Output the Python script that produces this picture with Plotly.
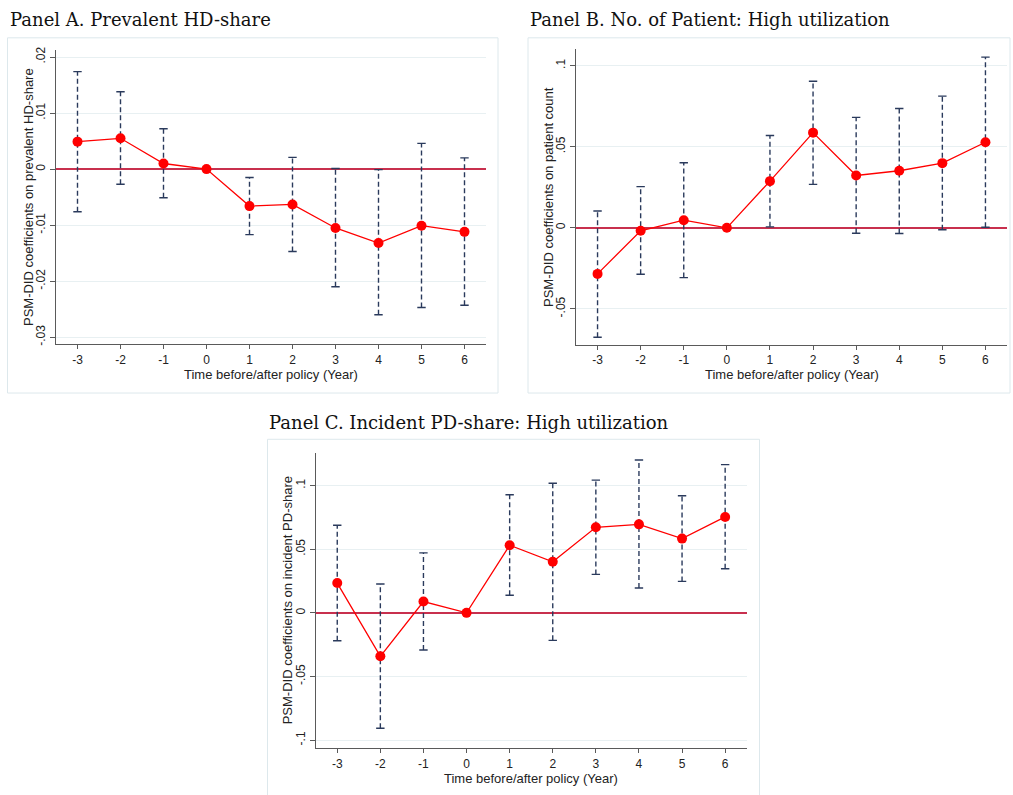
import plotly.graph_objects as go

# ---------------- data ----------------
years = [-3, -2, -1, 0, 1, 2, 3, 4, 5, 6]
x_tick_labels = ["-3", "-2", "-1", "0", "1", "2", "3", "4", "5", "6"]

# Panel A: Prevalent HD-share
a_coef = [0.0049, 0.0055, 0.0010, 0.0, -0.0066, -0.0063, -0.0105, -0.0132, -0.0101, -0.0112]
a_hi = [0.0174, 0.0138, 0.0072, 0.0, -0.0015, 0.0021, 0.0001, -0.0001, 0.0046, 0.0020]
a_lo = [-0.0076, -0.0027, -0.0051, 0.0, -0.0117, -0.0147, -0.0210, -0.0260, -0.0247, -0.0243]
a_yticks = [-0.03, -0.02, -0.01, 0, 0.01, 0.02]
a_yticklabels = ["-.03", "-.02", "-.01", "0", ".01", ".02"]

# Panel B: No. of Patient: High utilization
b_coef = [-0.0284, -0.0018, 0.0047, 0.0, 0.0288, 0.0587, 0.0323, 0.0352, 0.0399, 0.0528]
b_hi = [0.0104, 0.0254, 0.0401, 0.0, 0.0569, 0.0904, 0.0681, 0.0736, 0.0812, 0.1053]
b_lo = [-0.0675, -0.0286, -0.0307, 0.0, 0.0006, 0.0268, -0.0033, -0.0035, -0.0012, 0.0004]
b_yticks = [-0.05, 0, 0.05, 0.1]
b_yticklabels = ["-.05", "0", ".05", ".1"]

# Panel C: Incident PD-share: High utilization
c_coef = [0.0234, -0.0341, 0.0089, 0.0, 0.0531, 0.0401, 0.0672, 0.0695, 0.0583, 0.0753]
c_hi = [0.0688, 0.0227, 0.0471, 0.0, 0.0927, 0.1018, 0.1042, 0.1200, 0.0919, 0.1164]
c_lo = [-0.0219, -0.0906, -0.0292, 0.0, 0.0138, -0.0216, 0.0302, 0.0195, 0.0247, 0.0346]
c_yticks = [-0.1, -0.05, 0, 0.05, 0.1]
c_yticklabels = ["-.1", "-.05", "0", ".05", ".1"]

titles = ["Panel A. Prevalent HD-share",
          "Panel B. No. of Patient: High utilization",
          "Panel C. Incident PD-share: High utilization"]
y_titles = ["PSM-DID coefficients on prevalent HD-share",
            "PSM-DID coefficients on patient count",
            "PSM-DID coefficients on incident PD-share"]
x_title = "Time before/after policy (Year)"

# ---------------- styling ----------------
W, H = 1013, 795
RED = "#ff0000"
CI_COLOR = "#2a3a5c"
AXIS_COLOR = "#5a5a5a"
GRID_COLOR = "#e8f0f2"
ZERO_COLOR = "#c8304e"
BORDER_COLOR = "#dde8ec"
SANS = "Liberation Sans, Arial, sans-serif"
SERIF = "DejaVu Serif, serif"
TXT = "#222"


def px_x(p):
    return p / W


def px_y(p):
    return 1 - p / H


panels = [
    dict(coef=a_coef, hi=a_hi, lo=a_lo, yt=a_yticks, ytl=a_yticklabels,
         box=(56, 486, 47, 343), yr=(-0.03126, 0.0213)),
    dict(coef=b_coef, hi=b_hi, lo=b_lo, yt=b_yticks, ytl=b_yticklabels,
         box=(576, 1007, 46.7, 343.3), yr=(-0.072, 0.110)),
    dict(coef=c_coef, hi=c_hi, lo=c_lo, yt=c_yticks, ytl=c_yticklabels,
         box=(315.7, 746.7, 452.3, 749), yr=(-0.1063, 0.1255)),
]

fig = go.Figure()
layout = dict(width=W, height=H, margin=dict(l=0, r=0, t=0, b=0),
              paper_bgcolor="white", plot_bgcolor="white", showlegend=False)
annotations = []

for i, p in enumerate(panels):
    sfx = "" if i == 0 else str(i + 1)
    xa, ya = "x" + sfx, "y" + sfx
    # CI dashed lines
    cx, cy, capx, capy = [], [], [], []
    for yr, lo, hi in zip(years, p["lo"], p["hi"]):
        if hi == lo:
            continue
        cx += [yr, yr, None]
        cy += [lo, hi, None]
        capx += [yr, yr]
        capy += [lo, hi]
    fig.add_trace(go.Scatter(x=cx, y=cy, mode="lines", xaxis=xa, yaxis=ya,
                             line=dict(color=CI_COLOR, width=1.4, dash="5px,3px"),
                             hoverinfo="skip"))
    fig.add_trace(go.Scatter(x=capx, y=capy, mode="markers", xaxis=xa, yaxis=ya,
                             marker=dict(symbol="line-ew", size=6,
                                         line=dict(color=CI_COLOR, width=1.4)),
                             hoverinfo="skip"))
    # coefficient line + markers
    fig.add_trace(go.Scatter(x=years, y=p["coef"], mode="lines+markers",
                             xaxis=xa, yaxis=ya,
                             line=dict(color=RED, width=1.3),
                             marker=dict(color=RED, size=10)))

    x0, x1, y0, y1 = p["box"]
    layout["xaxis" + sfx] = dict(
        domain=[px_x(x0), px_x(x1)], anchor=ya, range=[-3.5, 6.5],
        tickvals=years, ticktext=x_tick_labels, ticks="outside", ticklen=4,
        tickcolor=AXIS_COLOR, tickwidth=1, showline=True, linecolor=AXIS_COLOR,
        linewidth=1.3, showgrid=False, zeroline=False,
        tickfont=dict(family=SANS, size=12, color=TXT),
    )
    layout["yaxis" + sfx] = dict(
        domain=[px_y(y1), px_y(y0)], anchor=xa, range=list(p["yr"]),
        tickvals=p["yt"], ticktext=p["ytl"], tickangle=-90, ticks="outside",
        ticklen=5, tickcolor=AXIS_COLOR, tickwidth=1, showline=True,
        linecolor=AXIS_COLOR, linewidth=1.3, showgrid=True, gridcolor=GRID_COLOR,
        gridwidth=1, zeroline=True, zerolinecolor=ZERO_COLOR, zerolinewidth=1.5,
        tickfont=dict(family=SANS, size=12, color=TXT),
    )
    # axis titles
    annotations.append(dict(text=x_title, x=px_x((x0 + x1) / 2), y=px_y(y1 + 30),
                            xref="paper", yref="paper", xanchor="center",
                            yanchor="middle", showarrow=False,
                            font=dict(family=SANS, size=13, color=TXT)))
    annotations.append(dict(text=y_titles[i], x=px_x(x0 - 28), y=px_y((y0 + y1) / 2),
                            xref="paper", yref="paper", xanchor="center",
                            yanchor="middle", showarrow=False, textangle=-90,
                            font=dict(family=SANS, size=13, color=TXT)))

# panel frames
frames = [(7.5, 498, 35, 392), (528, 1010, 35, 392), (267.5, 759.5, 438.5, 800)]
shapes = []
for (fx0, fx1, fy0, fy1) in frames:
    shapes.append(dict(type="rect", xref="paper", yref="paper",
                       x0=px_x(fx0), x1=px_x(fx1), y0=px_y(fy1), y1=px_y(fy0),
                       line=dict(color=BORDER_COLOR, width=1), fillcolor="rgba(0,0,0,0)",
                       layer="below"))
layout["shapes"] = shapes

title_pos = [(8, 17), (528, 17), (267, 422)]
for t, (tx, ty) in zip(titles, title_pos):
    annotations.append(dict(text=t, x=px_x(tx), y=px_y(ty), xref="paper", yref="paper",
                            xanchor="left", yanchor="middle", showarrow=False,
                            font=dict(family=SERIF, size=18, color="#111")))
layout["annotations"] = annotations

fig.update_layout(**layout)
fig.write_html("out.html")
